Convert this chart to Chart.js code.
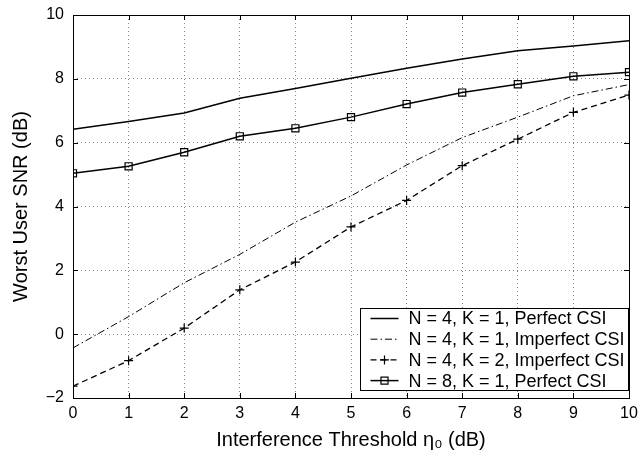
<!DOCTYPE html>
<html>
<head>
<meta charset="utf-8">
<title>Worst User SNR</title>
<script src="https://cdn.jsdelivr.net/npm/chart.js@4.4.1/dist/chart.umd.min.js"></script>
<style>
	html, body { margin: 0; padding: 0; background: #fff; }
	#wrap { width: 641px; height: 457px; }
</style>
</head>
<body>
<div id="wrap"><canvas id="snrChart" width="641" height="457"></canvas></div>
<script>
// 横軸 (dB)
var thresholds = [0, 1, 2, 3, 4, 5, 6, 7, 8, 9, 10];
var xTicks = [0, 1, 2, 3, 4, 5, 6, 7, 8, 9, 10];
var yTicks = [-2, 0, 2, 4, 6, 8, 10];

// 系列
var seriesLabels = [
	'N = 4, K = 1, Perfect CSI',
	'N = 4, K = 1, Imperfect CSI',
	'N = 4, K = 2, Imperfect CSI',
	'N = 8, K = 1, Perfect CSI'
];
var n4k1Perfect   = [6.42, 6.66, 6.93, 7.39, 7.70, 8.02, 8.33, 8.62, 8.88, 9.03, 9.19];
var n4k1Imperfect = [-0.43, 0.55, 1.61, 2.50, 3.51, 4.33, 5.30, 6.16, 6.80, 7.47, 7.82];
var n4k2Imperfect = [-1.63, -0.83, 0.19, 1.39, 2.26, 3.36, 4.19, 5.28, 6.11, 6.95, 7.49];
var n8k1Perfect   = [5.04, 5.26, 5.70, 6.20, 6.45, 6.80, 7.21, 7.57, 7.83, 8.08, 8.21];

(function() {
	var FONT = "'Liberation Sans', Arial, Helvetica, sans-serif";

	function toPoints(ys) {
		return thresholds.map(function(x, i) { return { x: x, y: ys[i] }; });
	}

	function series(label, ys, dash, width, marker, radius) {
		return {
			label: label,
			data: toPoints(ys),
			borderColor: '#000',
			backgroundColor: 'rgba(0,0,0,0)',
			borderWidth: width,
			borderDash: dash,
			pointStyle: marker || 'circle',
			pointRadius: marker ? radius : 0,
			pointBorderColor: '#000',
			pointBackgroundColor: 'rgba(0,0,0,0)',
			pointBorderWidth: 1.2,
			tension: 0,
			fill: false
		};
	}

	// 枠と内向きの目盛り
	var frame = {
		id: 'frame',
		afterDatasetsDraw: function(chart) {
			var ctx = chart.ctx, a = chart.chartArea;
			var sx = chart.scales.x, sy = chart.scales.y;
			ctx.save();
			ctx.strokeStyle = '#000';
			ctx.lineWidth = 1;
			ctx.beginPath();
			xTicks.forEach(function(v) {
				var px = Math.round(sx.getPixelForValue(v)) + 0.5;
				ctx.moveTo(px, a.bottom); ctx.lineTo(px, a.bottom - 5);
				ctx.moveTo(px, a.top); ctx.lineTo(px, a.top + 5);
			});
			yTicks.forEach(function(v) {
				var py = Math.round(sy.getPixelForValue(v)) + 0.5;
				ctx.moveTo(a.left, py); ctx.lineTo(a.left + 5, py);
				ctx.moveTo(a.right, py); ctx.lineTo(a.right - 5, py);
			});
			ctx.stroke();
			ctx.strokeRect(Math.round(a.left) + 0.5, Math.round(a.top) + 0.5,
				Math.round(a.right - a.left), Math.round(a.bottom - a.top));
			ctx.restore();
		}
	};

	// 凡例（プロット内右下）
	var legendBox = {
		id: 'legendBox',
		afterDraw: function(chart) {
			var ctx = chart.ctx, a = chart.chartArea;
			var w = 268, h = 82;
			var left = Math.round(a.right - 1 - w) + 0.5;
			var top = Math.round(a.bottom - 8 - h) + 0.5;
			ctx.save();
			ctx.fillStyle = '#fff';
			ctx.fillRect(left, top, w, h);
			ctx.strokeStyle = '#000';
			ctx.lineWidth = 1;
			ctx.setLineDash([]);
			ctx.strokeRect(left, top, w, h);

			ctx.font = '18px ' + FONT;
			ctx.textBaseline = 'middle';
			ctx.textAlign = 'left';
			chart.data.datasets.forEach(function(ds, i) {
				var y = top + 10 + i * 20.7;
				ctx.strokeStyle = '#000';
				ctx.lineWidth = ds.borderWidth;
				ctx.setLineDash(ds.borderDash || []);
				ctx.beginPath();
				ctx.moveTo(left + 10, y);
				ctx.lineTo(left + 38, y);
				ctx.stroke();
				ctx.setLineDash([]);
				if (ds.pointRadius > 0) {
					ctx.lineWidth = ds.pointBorderWidth;
					ctx.fillStyle = 'rgba(0,0,0,0)';
					Chart.helpers.drawPoint(ctx, {
						pointStyle: ds.pointStyle,
						radius: ds.pointRadius,
						rotation: 0,
						borderWidth: ds.pointBorderWidth
					}, left + 24, y);
				}
				ctx.fillStyle = '#000';
				ctx.fillText(ds.label, left + 48, y + 1);
			});
			ctx.restore();
		}
	};

	var ctx = document.getElementById('snrChart').getContext('2d');
	var config = {
		type: 'line',
		data: {
			datasets: [
				series(seriesLabels[0], n4k1Perfect, [], 1.5),
				series(seriesLabels[1], n4k1Imperfect, [7, 3, 1.5, 3], 1),
				series(seriesLabels[2], n4k2Imperfect, [6, 4], 1.3, 'cross', 4.5),
				series(seriesLabels[3], n8k1Perfect, [], 1.5, 'rect', 5)
			]
		},
		options: {
			responsive: false,
			animation: false,
			layout: { padding: { top: 15, right: 12, left: 0, bottom: 0 } },
			plugins: {
				legend: { display: false },
				tooltip: { enabled: false }
			},
			scales: {
				x: {
					type: 'linear',
					min: 0,
					max: 10,
					afterFit: function(s) {
						s.height = 59;
						s.paddingLeft = 0;
						s.paddingRight = 0;
					},
					afterBuildTicks: function(s) {
						s.ticks = xTicks.map(function(v) { return { value: v }; });
					},
					ticks: {
						color: '#000',
						font: { family: FONT, size: 16 },
						padding: 6,
						maxRotation: 0,
						autoSkip: false
					},
					grid: { color: '#888', lineWidth: 1, drawTicks: false },
					border: { display: false, dash: [1, 3] },
					title: {
						display: true,
						text: 'Interference Threshold η\u2080 (dB)',
						color: '#000',
						font: { family: FONT, size: 20 },
						padding: { top: 0, bottom: 5 }
					}
				},
				y: {
					type: 'linear',
					min: -2,
					max: 10,
					afterFit: function(s) {
						s.width = 73;
						s.paddingTop = 0;
						s.paddingBottom = 0;
					},
					afterBuildTicks: function(s) {
						s.ticks = yTicks.map(function(v) { return { value: v }; });
					},
					ticks: {
						color: '#000',
						font: { family: FONT, size: 16 },
						padding: 9,
						callback: function(v) { return String(v).replace('-', '\u2212'); }
					},
					grid: { color: '#888', lineWidth: 1, drawTicks: false },
					border: { display: false, dash: [1, 3] },
					title: {
						display: true,
						text: 'Worst User SNR (dB)',
						color: '#000',
						font: { family: FONT, size: 20 },
						padding: { top: 9, bottom: 0 }
					}
				}
			}
		},
		plugins: [frame, legendBox]
	};

	new Chart(ctx, config);
})();
</script>
</body>
</html>
